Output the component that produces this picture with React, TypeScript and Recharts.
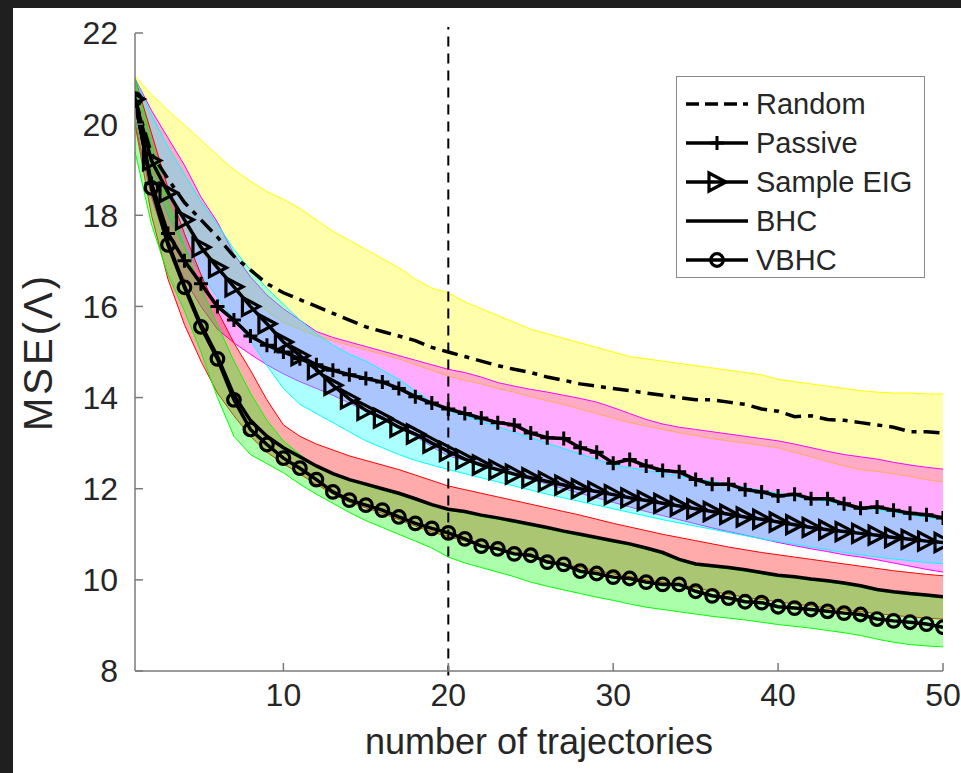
import React from 'react';
import { ComposedChart, Area, Line, XAxis, YAxis, ReferenceLine, Legend, Label } from 'recharts';

// number of trajectories
const trajectories = [
  1, 2, 3, 4, 5, 6, 7, 8, 9, 10, 11, 12, 13, 14, 15, 16, 17, 18, 19, 20, 21, 22, 23, 24, 25,
  26, 27, 28, 29, 30, 31, 32, 33, 34, 35, 36, 37, 38, 39, 40, 41, 42, 43, 44, 45, 46, 47, 48, 49, 50,
];

// Random (dash-dot) + yellow band
const random = [
  20.55, 19.35, 18.8, 18.28, 17.9, 17.52, 17.1, 16.8, 16.5, 16.3, 16.15, 16.0, 15.85, 15.7, 15.55, 15.45, 15.35, 15.25, 15.1, 15.0,
  14.9, 14.8, 14.7, 14.62, 14.55, 14.45, 14.38, 14.3, 14.25, 14.2, 14.15, 14.1, 14.05, 14.0, 13.95, 13.95, 13.9, 13.85, 13.75, 13.7,
  13.58, 13.6, 13.52, 13.5, 13.45, 13.4, 13.35, 13.25, 13.25, 13.22,
];
const randomHi = [
  21.05, 20.65, 20.3, 19.98, 19.65, 19.32, 19.0, 18.75, 18.52, 18.35, 18.15, 17.9, 17.65, 17.45, 17.25, 17.05, 16.85, 16.6, 16.4, 16.3,
  16.1, 15.95, 15.8, 15.65, 15.5, 15.4, 15.3, 15.2, 15.1, 15.0, 14.9, 14.85, 14.8, 14.75, 14.7, 14.65, 14.6, 14.55, 14.5, 14.4,
  14.35, 14.3, 14.25, 14.2, 14.15, 14.12, 14.1, 14.1, 14.08, 14.08,
];
const randomLo = [
  20.0, 19.0, 18.3, 17.7, 17.2, 16.8, 16.45, 16.15, 15.9, 15.65, 15.5, 15.35, 15.25, 15.15, 15.05, 14.95, 14.85, 14.72, 14.6, 14.47,
  14.38, 14.3, 14.2, 14.12, 14.02, 13.93, 13.85, 13.75, 13.65, 13.55, 13.45, 13.38, 13.3, 13.23, 13.17, 13.1, 13.05, 13.0, 12.95, 12.9,
  12.8, 12.7, 12.6, 12.5, 12.42, 12.38, 12.33, 12.27, 12.2, 12.15,
];

// Passive (+) + magenta band
const passive = [
  20.5, 18.7, 17.6, 17.0, 16.5, 16.0, 15.7, 15.35, 15.15, 15.0, 14.85, 14.72, 14.6, 14.5, 14.42, 14.34, 14.2, 14.02, 13.88, 13.75,
  13.65, 13.55, 13.45, 13.4, 13.22, 13.12, 13.1, 12.9, 12.8, 12.56, 12.64, 12.5, 12.4, 12.37, 12.2, 12.1, 12.1, 11.98, 11.93, 11.84,
  11.88, 11.78, 11.78, 11.67, 11.57, 11.6, 11.53, 11.46, 11.43, 11.36,
];
const passiveHi = [
  21.0, 20.3, 19.7, 19.1, 18.4, 17.85, 17.15, 16.65, 16.25, 15.95, 15.7, 15.45, 15.32, 15.22, 15.12, 15.02, 14.92, 14.82, 14.72, 14.62,
  14.55, 14.45, 14.33, 14.25, 14.18, 14.12, 14.05, 13.98, 13.9, 13.78, 13.65, 13.52, 13.42, 13.35, 13.3, 13.25, 13.2, 13.15, 13.1, 13.05,
  12.98, 12.9, 12.82, 12.75, 12.7, 12.65, 12.58, 12.52, 12.47, 12.43,
];
const passiveLo = [
  20.0, 18.4, 17.3, 16.6, 16.0, 15.5, 15.2, 14.95, 14.72, 14.52, 14.35, 14.2, 14.05, 13.88, 13.7, 13.52, 13.35, 13.15, 12.92, 12.72,
  12.62, 12.5, 12.4, 12.3, 12.2, 12.1, 12.0, 11.9, 11.8, 11.7, 11.6, 11.5, 11.41, 11.32, 11.23, 11.14, 11.06, 10.98, 10.9, 10.82,
  10.75, 10.68, 10.62, 10.55, 10.5, 10.44, 10.37, 10.3, 10.23, 10.17,
];

// Sample EIG (triangles) + cyan band
const sampleEig = [
  20.55, 19.2, 18.5, 17.9, 17.3, 16.85, 16.43, 16.0, 15.62, 15.22, 14.92, 14.62, 14.27, 13.97, 13.72, 13.55, 13.35, 13.2, 13.0, 12.82,
  12.65, 12.52, 12.42, 12.32, 12.24, 12.16, 12.08, 12.0, 11.94, 11.87, 11.8, 11.74, 11.68, 11.62, 11.56, 11.5, 11.44, 11.38, 11.33, 11.27,
  11.21, 11.15, 11.1, 11.06, 11.02, 10.98, 10.93, 10.89, 10.85, 10.82,
];
const sampleEigHi = [
  21.0, 20.2, 19.5, 18.9, 18.3, 17.8, 17.25, 16.8, 16.4, 16.05, 15.7, 15.4, 15.15, 14.95, 14.8, 14.6, 14.4, 14.15, 13.9, 13.72,
  13.6, 13.48, 13.36, 13.24, 13.12, 13.0, 12.88, 12.76, 12.64, 12.52, 12.46, 12.4, 12.34, 12.28, 12.22, 12.16, 12.1, 12.03, 11.96, 11.9,
  11.84, 11.78, 11.72, 11.66, 11.6, 11.54, 11.48, 11.42, 11.37, 11.33,
];
const sampleEigLo = [
  20.1, 18.9, 18.0, 17.3, 16.7, 16.2, 15.7, 15.25, 14.7, 14.2, 13.85, 13.65, 13.45, 13.25, 13.05, 12.9, 12.75, 12.62, 12.52, 12.42,
  12.33, 12.24, 12.15, 12.06, 11.97, 11.88, 11.8, 11.72, 11.64, 11.56, 11.48, 11.4, 11.32, 11.25, 11.18, 11.11, 11.04, 10.97, 10.9, 10.84,
  10.78, 10.72, 10.66, 10.6, 10.55, 10.5, 10.46, 10.42, 10.38, 10.35,
];

// BHC (solid) + red band
const bhc = [
  20.5, 18.65, 17.4, 16.45, 15.6, 14.9, 14.05, 13.5, 13.15, 12.9, 12.7, 12.5, 12.33, 12.2, 12.1, 12.0, 11.9, 11.78, 11.65, 11.55,
  11.5, 11.42, 11.36, 11.29, 11.22, 11.15, 11.07, 11.0, 10.93, 10.86, 10.79, 10.7, 10.6, 10.45, 10.35, 10.31, 10.27, 10.22, 10.16, 10.1,
  10.07, 10.02, 9.98, 9.93, 9.87, 9.79, 9.74, 9.7, 9.67, 9.63,
];
const bhcHi = [
  21.0, 19.8, 18.6, 17.6, 16.7, 15.9, 15.2, 14.6, 13.95, 13.4, 13.15, 12.98, 12.85, 12.72, 12.62, 12.52, 12.42, 12.3, 12.18, 12.06,
  11.98, 11.9, 11.82, 11.74, 11.66, 11.58, 11.5, 11.42, 11.33, 11.24, 11.16, 11.08, 11.0, 10.93, 10.86, 10.79, 10.72, 10.66, 10.6, 10.55,
  10.5, 10.45, 10.4, 10.35, 10.3, 10.25, 10.2, 10.16, 10.12, 10.09,
];
const bhcLo = [
  20.0, 18.0, 16.6, 15.6, 14.8, 14.1, 13.6, 13.15, 12.8, 12.55, 12.32, 12.1, 11.88, 11.7, 11.58, 11.46, 11.32, 11.18, 11.05, 10.95,
  10.85, 10.75, 10.67, 10.58, 10.5, 10.42, 10.35, 10.27, 10.2, 10.13, 10.07, 10.0, 9.95, 9.9, 9.83, 9.75, 9.68, 9.62, 9.57, 9.52,
  9.47, 9.43, 9.38, 9.34, 9.3, 9.26, 9.22, 9.19, 9.16, 9.14,
];

// VBHC (circles) + green band
const vbhc = [
  20.55, 18.6, 17.35, 16.42, 15.55, 14.85, 13.95, 13.3, 12.97, 12.67, 12.45, 12.2, 11.93, 11.75, 11.64, 11.53, 11.38, 11.24, 11.13, 11.03,
  10.9, 10.74, 10.68, 10.57, 10.54, 10.39, 10.34, 10.19, 10.14, 10.06, 10.03, 9.95, 9.9, 9.9, 9.75, 9.65, 9.6, 9.52, 9.5, 9.41,
  9.38, 9.35, 9.31, 9.27, 9.24, 9.14, 9.1, 9.07, 9.03, 8.96,
];
const vbhcHi = [
  21.0, 19.6, 18.3, 17.3, 16.4, 15.6, 14.8, 14.1, 13.5, 13.05, 12.75, 12.5, 12.32, 12.18, 12.07, 11.97, 11.87, 11.75, 11.63, 11.53,
  11.47, 11.39, 11.33, 11.26, 11.19, 11.12, 11.04, 10.97, 10.9, 10.83, 10.76, 10.67, 10.57, 10.42, 10.32, 10.28, 10.24, 10.19, 10.13, 10.07,
  10.04, 9.99, 9.95, 9.9, 9.84, 9.76, 9.71, 9.67, 9.64, 9.6,
];
const vbhcLo = [
  19.4, 17.8, 16.7, 15.9, 15.0, 14.0, 13.15, 12.75, 12.55, 12.35, 12.1, 11.88, 11.68, 11.48, 11.3, 11.15, 11.0, 10.85, 10.7, 10.5,
  10.37, 10.27, 10.17, 10.07, 9.95, 9.86, 9.78, 9.7, 9.62, 9.55, 9.47, 9.4, 9.35, 9.3, 9.25, 9.2, 9.16, 9.12, 9.07, 9.02,
  8.98, 8.94, 8.89, 8.84, 8.78, 8.7, 8.63, 8.58, 8.55, 8.53,
];

const xTicks = [10, 20, 30, 40, 50];
const yTicks = [8, 10, 12, 14, 16, 18, 20, 22];
// vertical marker at 20 trajectories, drawn slightly past both axis ends
const markerX = 20;
const markerSpan = [7.9, 22.13];

const data = trajectories.map((x, i) => ({
  x,
  random: random[i],
  randomBand: [randomLo[i], randomHi[i]],
  passive: passive[i],
  passiveBand: [passiveLo[i], passiveHi[i]],
  sampleEig: sampleEig[i],
  sampleEigBand: [sampleEigLo[i], sampleEigHi[i]],
  bhc: bhc[i],
  bhcBand: [bhcLo[i], bhcHi[i]],
  vbhc: vbhc[i],
  vbhcBand: [vbhcLo[i], vbhcHi[i]],
}));

const FONT = '"Liberation Sans", Arial, Helvetica, sans-serif';
const INK = '#262626';
const AXIS = '#7a7a7a';
const LINE_W = 3.5;
const RANDOM_DASH = '16 7 5 7';

// markers
function PlusMark({ cx, cy }: { cx: number; cy: number }) {
  return <path d={`M${cx - 7},${cy}H${cx + 7}M${cx},${cy - 7}V${cy + 7}`} stroke="#000" strokeWidth={3} fill="none" />;
}
function TriMark({ cx, cy }: { cx: number; cy: number }) {
  return <path d={`M${cx - 8},${cy - 9}L${cx + 9},${cy}L${cx - 8},${cy + 9}Z`} stroke="#000" strokeWidth={3.2} fill="none" strokeLinejoin="miter" />;
}
function CircleMark({ cx, cy }: { cx: number; cy: number }) {
  return <circle cx={cx} cy={cy} r={6.3} stroke="#000" strokeWidth={3.2} fill="none" />;
}

const legendItems = [
  { name: 'Random', dash: '13 6', marker: null },
  { name: 'Passive', dash: undefined, marker: 'plus' },
  { name: 'Sample EIG', dash: undefined, marker: 'tri' },
  { name: 'BHC', dash: undefined, marker: null },
  { name: 'VBHC', dash: undefined, marker: 'circle' },
];

function renderLegend() {
  return (
    <div style={styles.legendBox}>
      {legendItems.map(item => (
        <div key={item.name} style={styles.legendRow}>
          <svg width={66} height={30} style={{ display: 'block' }}>
            <line x1={2} y1={15} x2={64} y2={15} stroke="#000" strokeWidth={LINE_W} strokeDasharray={item.dash} />
            {item.marker === 'plus' && <PlusMark cx={33} cy={15} />}
            {item.marker === 'tri' && <TriMark cx={33} cy={15} />}
            {item.marker === 'circle' && <CircleMark cx={33} cy={15} />}
          </svg>
          <span style={styles.legendText}>{item.name}</span>
        </div>
      ))}
    </div>
  );
}

function YTitle(props: any) {
  const vb = props.viewBox;
  const cx = vb.x - 96;
  const cy = vb.y + vb.height / 2;
  return (
    <text
      x={cx}
      y={cy}
      transform={`rotate(-90, ${cx}, ${cy})`}
      textAnchor="middle"
      dominantBaseline="central"
      fontSize={40}
      letterSpacing={3}
      fill={INK}
      fontFamily={FONT}
    >
      MSE(Λ)
    </text>
  );
}

function band(key: string, color: string) {
  return (
    <Area
      key={key}
      type="linear"
      dataKey={key}
      stroke={color}
      strokeWidth={1}
      fill={color}
      fillOpacity={0.33}
      dot={false}
      activeDot={false}
      isAnimationActive={false}
      legendType="none"
    />
  );
}

export default function App() {
  return (
    <div style={styles.frame}>
      <div style={styles.paper} />
      <div style={styles.chartBox}>
        <ComposedChart width={961} height={773} data={data} margin={{ top: 33, right: 18, bottom: 101, left: 134 }}>
          {band('randomBand', '#ffff00')}
          {band('passiveBand', '#ff00ff')}
          {band('sampleEigBand', '#00ffff')}
          {band('bhcBand', '#ff0000')}
          {band('vbhcBand', '#00ff00')}

          <XAxis
            type="number"
            dataKey="x"
            domain={[1, 50]}
            ticks={xTicks}
            height={1}
            allowDataOverflow
            axisLine={{ stroke: AXIS, strokeWidth: 1.5 }}
            tickLine={{ stroke: AXIS, strokeWidth: 1.5 }}
            tickSize={-8}
            tickMargin={20}
            tick={{ fontSize: 32, fill: INK, fontFamily: FONT }}
          >
            <Label value="number of trajectories" position="bottom" offset={56} style={{ fontSize: 36, fill: INK, fontFamily: FONT }} />
          </XAxis>
          <YAxis
            type="number"
            domain={[8, 22]}
            ticks={yTicks}
            width={1}
            allowDataOverflow
            axisLine={{ stroke: AXIS, strokeWidth: 1.5 }}
            tickLine={{ stroke: AXIS, strokeWidth: 1.5 }}
            tickSize={-8}
            tickMargin={25}
            tick={{ fontSize: 32, fill: INK, fontFamily: FONT }}
            label={<YTitle />}
          />

          <ReferenceLine
            segment={[{ x: markerX, y: markerSpan[0] }, { x: markerX, y: markerSpan[1] }]}
            ifOverflow="visible"
            stroke="#000"
            strokeWidth={2}
            strokeDasharray="10 7"
          />

          <Line type="linear" dataKey="random" stroke="#000" strokeWidth={LINE_W} strokeDasharray={RANDOM_DASH} dot={false} activeDot={false} isAnimationActive={false} />
          <Line
            type="linear"
            dataKey="passive"
            stroke="#000"
            strokeWidth={LINE_W}
            dot={(p: any) => <PlusMark key={`p-${p.index}`} cx={p.cx} cy={p.cy} />}
            activeDot={false}
            isAnimationActive={false}
          />
          <Line
            type="linear"
            dataKey="sampleEig"
            stroke="#000"
            strokeWidth={LINE_W}
            dot={(p: any) => <TriMark key={`t-${p.index}`} cx={p.cx} cy={p.cy} />}
            activeDot={false}
            isAnimationActive={false}
          />
          <Line type="linear" dataKey="bhc" stroke="#000" strokeWidth={LINE_W} dot={false} activeDot={false} isAnimationActive={false} />
          <Line
            type="linear"
            dataKey="vbhc"
            stroke="#000"
            strokeWidth={LINE_W}
            dot={(p: any) => <CircleMark key={`c-${p.index}`} cx={p.cx} cy={p.cy} />}
            activeDot={false}
            isAnimationActive={false}
          />

          <Legend
            layout="vertical"
            align="center"
            verticalAlign="middle"
            content={renderLegend}
            wrapperStyle={{ left: 676, top: 76, width: 249, height: 202 }}
          />
        </ComposedChart>
      </div>
    </div>
  );
}

const styles: Record<string, React.CSSProperties> = {
  frame: {
    position: 'absolute',
    left: 0,
    top: 0,
    width: 961,
    height: 773,
    background: '#1f1f1f',
    overflow: 'hidden',
  },
  paper: {
    position: 'absolute',
    left: 13,
    top: 8,
    width: 948,
    height: 765,
    background: '#ffffff',
  },
  chartBox: { position: 'absolute', left: 0, top: 0 },
  legendBox: {
    boxSizing: 'border-box',
    width: 249,
    height: 202,
    border: '1.5px solid #8a8a8a',
    background: '#ffffff',
    padding: '8px 0 0 7px',
  },
  legendRow: { display: 'flex', alignItems: 'center', height: 38.8 },
  legendText: { fontFamily: FONT, fontSize: 29, color: INK, marginLeft: 6, lineHeight: '30px' },
};
